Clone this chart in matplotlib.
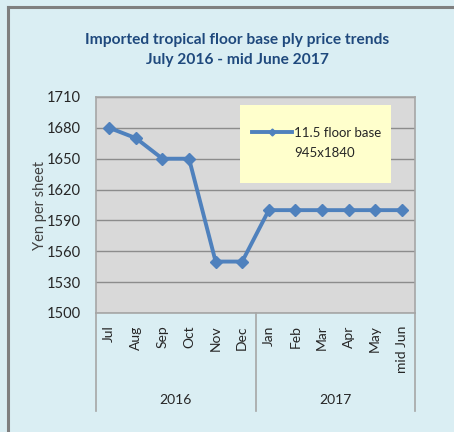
import matplotlib.pyplot as plt
from matplotlib.lines import Line2D
from matplotlib.patches import Rectangle

plt.rcParams['font.family'] = ['Lato', 'DejaVu Sans']

# Chart data
months = ['Jul', 'Aug', 'Sep', 'Oct', 'Nov', 'Dec',
          'Jan', 'Feb', 'Mar', 'Apr', 'May', 'mid Jun']
years = ['2016', '2017']
months_per_year = [6, 6]
price = [1680, 1670, 1650, 1650, 1550, 1550,
         1600, 1600, 1600, 1600, 1600, 1600]
series_name = '11.5 floor base'
series_size = '945x1840'

W, H = 454, 432
fig = plt.figure(figsize=(W / 100, H / 100), dpi=100)
fig.patch.set_facecolor('#DAEEF3')

# outer chart border (left and top only are visible)
fig.add_artist(Line2D([7.5 / W, 7.5 / W], [0, 1 - 7 / H], color='#7F7F7F', lw=2.2))
fig.add_artist(Line2D([7.5 / W, 1], [1 - 7 / H, 1 - 7 / H], color='#7F7F7F', lw=2.2))

left, right, top, bottom = 96, 415, 97, 313
ax = fig.add_axes([left / W, 1 - bottom / H, (right - left) / W, (bottom - top) / H])
ax.set_facecolor('#D9D9D9')

x = list(range(len(months)))
ax.plot(x, price, color='#4F81BD', lw=2.8, marker='D', markersize=6, label=series_name, zorder=3)

ax.set_xlim(-0.5, len(months) - 0.5)
ax.set_ylim(1500, 1710)
ax.set_yticks(range(1500, 1711, 30))
ax.yaxis.grid(True, color='#8C8C8C', lw=1)
ax.set_axisbelow(True)
for s in ax.spines.values():
    s.set_color('#A6A6A6')
    s.set_linewidth(1.2)

ax.set_xticks(x)
ax.set_xticklabels(months, rotation=90, va='top', ha='center', fontsize=10, color='#262626')
ax.tick_params(axis='x', length=0, pad=9)
ax.tick_params(axis='y', length=0, pad=11, labelsize=10.5, labelcolor='#262626')
ax.set_ylabel('Yen per sheet', fontsize=10.5, color='#404040', labelpad=0)

# year grouping under the month labels
sep_depth = (411 - bottom) / (bottom - top)
start = -0.5
for yr, n in zip(years, months_per_year):
    ax.add_line(Line2D([start, start], [0, -sep_depth], transform=ax.get_xaxis_transform(),
                       color='#A6A6A6', lw=1.2, clip_on=False))
    ax.text(start + n / 2, -(400 - bottom) / (bottom - top), yr, transform=ax.get_xaxis_transform(),
            ha='center', va='center', fontsize=10, color='#262626')
    start += n
ax.add_line(Line2D([start, start], [0, -sep_depth], transform=ax.get_xaxis_transform(),
                   color='#A6A6A6', lw=1.2, clip_on=False))

# legend box
bx0, bx1, by0, by1 = 240, 391, 105, 183
ax.add_patch(Rectangle(((bx0 - left) / (right - left), 1 - (by1 - top) / (bottom - top)),
                       (bx1 - bx0) / (right - left), (by1 - by0) / (bottom - top),
                       transform=ax.transAxes, facecolor='#FFFFCC', edgecolor='none', zorder=4))
h = Line2D([], [], color='#4F81BD', lw=2.8, marker='D', markersize=3.5)
leg = ax.legend([h], [series_name], loc='center left', frameon=False, fontsize=9.5,
                handlelength=3.0, handletextpad=0.15, borderpad=0, borderaxespad=0,
                bbox_to_anchor=((252 - left) / (right - left), 1 - (133 - top) / (bottom - top)))
leg.set_zorder(5)
for t in leg.get_texts():
    t.set_color('#262626')
ax.text((294 - left) / (right - left), 1 - (153 - top) / (bottom - top), series_size,
        transform=ax.transAxes, ha='left', va='center', fontsize=9.5, color='#262626', zorder=5)

fig.text(237 / W, 1 - 40 / H, 'Imported tropical floor base ply price trends',
         ha='center', va='center', fontsize=11.2, fontweight='bold', color='#1F497D')
fig.text(237 / W, 1 - 60 / H, 'July 2016 - mid June 2017',
         ha='center', va='center', fontsize=11.2, fontweight='bold', color='#1F497D')

fig.savefig('out.png', dpi=100, facecolor=fig.get_facecolor())
